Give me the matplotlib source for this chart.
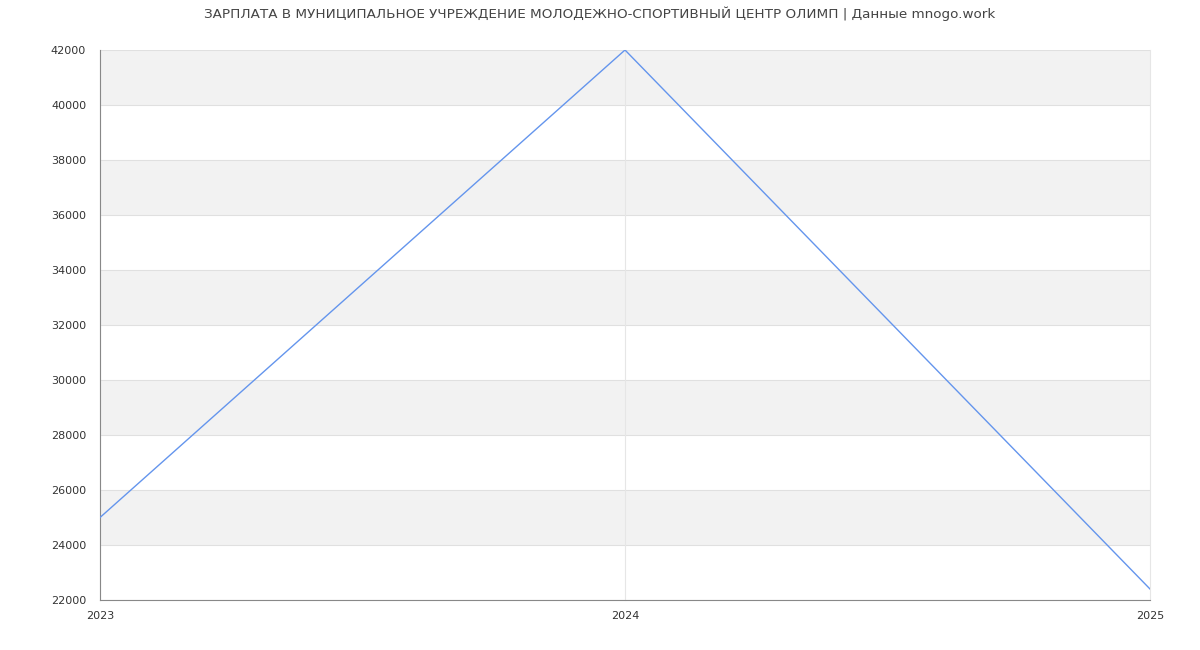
import matplotlib
matplotlib.use('Agg')
import matplotlib.pyplot as plt

# Данные
years = [2023, 2024, 2025]
salary = [25000, 42000, 22400]
y_ticks = list(range(22000, 42001, 2000))
title = 'ЗАРПЛАТА В МУНИЦИПАЛЬНОЕ УЧРЕЖДЕНИЕ МОЛОДЕЖНО-СПОРТИВНЫЙ ЦЕНТР ОЛИМП | Данные mnogo.work'

fig = plt.figure(figsize=(12, 6.5), dpi=100)
ax = fig.add_axes([100 / 1200, 1 - 600 / 650, 1050 / 1200, 550 / 650])

# полосы фона
for i, lo in enumerate(y_ticks[:-1]):
    if i % 2 == 1:
        ax.axhspan(lo, lo + 2000, color='#f2f2f2', zorder=0, lw=0)
for t in y_ticks:
    ax.axhline(t, color='#e0e0e0', lw=0.8, zorder=1)
for x in years:
    ax.axvline(x, color='#e6e6e6', lw=0.8, zorder=1, clip_on=False)

ax.plot(years, salary, color='#6495ed', lw=1, zorder=3)

ax.set_xlim(2023, 2025)
ax.set_ylim(22000, 42000)
ax.set_xticks(years)
ax.set_xticklabels([str(y) for y in years])
ax.set_yticks(y_ticks)
ax.tick_params(axis='both', labelsize=8, colors='#333333', length=0)
ax.tick_params(axis='x', pad=8)
ax.tick_params(axis='y', pad=10)

for s in ['top', 'right']:
    ax.spines[s].set_visible(False)
ax.spines['left'].set_color('#888888')
ax.spines['bottom'].set_color('#888888')

fig.suptitle(title, y=1 - 14 / 650, va='center', fontsize=9.7, color='#444444')

fig.savefig('out.png', dpi=100)
